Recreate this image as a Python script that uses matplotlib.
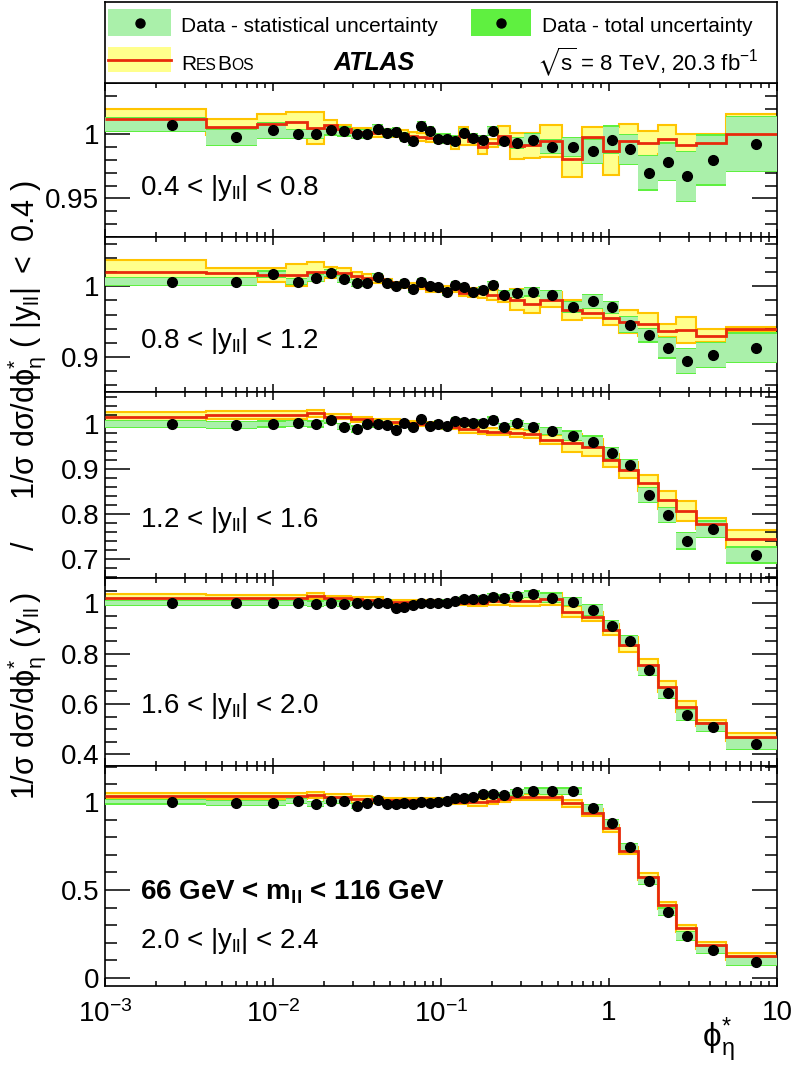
import numpy as np
import matplotlib
matplotlib.use("Agg")
import matplotlib.pyplot as plt
from matplotlib.ticker import MultipleLocator, FuncFormatter, LogLocator, NullFormatter

plt.rcParams['font.family'] = ['Liberation Sans', 'DejaVu Sans']
plt.rcParams['mathtext.fontset'] = 'custom'
plt.rcParams['mathtext.rm'] = 'Liberation Sans'
plt.rcParams['mathtext.it'] = 'Liberation Sans:italic'
plt.rcParams['mathtext.bf'] = 'Liberation Sans:bold'
plt.rcParams['mathtext.fallback'] = 'stixsans'

# phi*_eta binning and position of the first data point
phi_edges = [0.0, 0.004, 0.008, 0.012, 0.016, 0.020, 0.024, 0.029, 0.034, 0.039,
             0.045, 0.051, 0.057, 0.064, 0.072, 0.081, 0.091, 0.102, 0.114, 0.128,
             0.145, 0.165, 0.189, 0.219, 0.258, 0.312, 0.391, 0.524, 0.695, 0.918,
             1.153, 1.496, 1.947, 2.522, 3.277, 5.0, 10.0]
phi_first = 0.0025

# 0.4 < |y| < 0.8
data_y1 = [1.0075, 0.9977, 1.0030, 1.0000, 1.0005, 1.0030, 1.0023, 1.0000, 1.0005, 1.0040,
           1.0010, 1.0018, 0.9977, 0.9946, 1.0067, 1.0028, 0.9967, 0.9967, 0.9951, 1.0010,
           0.9972, 0.9956, 1.0028, 0.9946, 0.9933, 0.9959, 0.9903, 0.9903, 0.9869, 0.9959,
           0.9882, 0.9702, 0.9787, 0.9672, 0.9800, 0.9926]
stat_y1 = [0.005, 0.006, 0.006] + [0.003] * 21 + [0.004, 0.004, 0.005, 0.007, 0.009, 0.010,
                                                  0.011, 0.013, 0.014, 0.019, 0.019, 0.021]
tot_y1 = [0.006, 0.007, 0.007] + [0.004] * 21 + [0.005, 0.005, 0.006, 0.008, 0.010, 0.011,
                                                 0.012, 0.014, 0.015, 0.020, 0.020, 0.022]
rb_y1 = [1.012, 1.0058, 1.008, 1.010, 1.005, 1.0075, 1.004, 1.002, 1.002, 1.001,
         1.001, 1.001, 1.000, 0.999, 0.998, 0.997, 0.997, 0.996, 0.993, 0.999,
         0.995, 0.990, 0.993, 0.999, 0.991, 0.9915, 0.995, 0.981, 0.998, 0.987,
         0.995, 0.993, 0.996, 0.992, 0.993, 1.000]
rbe_y1 = [0.0075, 0.006, 0.0075, 0.0075, 0.0125, 0.004] + [0.003] * 12 + \
         [0.0045, 0.007, 0.003, 0.005, 0.003, 0.0077, 0.0099, 0.0099, 0.0125, 0.014,
          0.008, 0.019, 0.013, 0.0095, 0.011, 0.008, 0.0075, 0.0155]

# 0.8 < |y| < 1.2
data_y2 = [1.0068, 1.0068, 1.017, 1.0068, 1.0115, 1.019, 1.010, 1.0045, 1.0045, 1.013,
           1.0054, 1.0007, 1.0045, 0.9965, 1.0068, 1.000, 0.999, 0.992, 1.002, 0.999,
           0.992, 0.995, 1.002, 0.988, 0.9904, 0.992, 0.987, 0.9707, 0.9786, 0.970,
           0.9458, 0.9307, 0.913, 0.894, 0.9025, 0.913]
stat_y2 = [0.005, 0.005] + [0.004] * 21 + [0.005, 0.005, 0.005, 0.006, 0.007, 0.009, 0.008,
                                           0.011, 0.009, 0.014, 0.017, 0.017, 0.020]
tot_y2 = [0.0065, 0.0065] + [0.0055] * 21 + [0.0065, 0.0065, 0.0065, 0.0075, 0.0085, 0.0105,
                                             0.0095, 0.0125, 0.0105, 0.0155, 0.0185, 0.0185,
                                             0.0215]
rb_y2 = [1.020, 1.0186, 1.016, 1.016, 1.021, 1.020, 1.019, 1.014, 1.012, 1.010,
         1.0068, 1.002, 1.002, 1.001, 1.000, 0.9965, 0.9965, 0.9965, 0.9965, 0.991,
         0.991, 0.990, 0.988, 0.9835, 0.981, 0.9755,
         0.981, 0.966, 0.962, 0.955, 0.950, 0.946, 0.937, 0.938, 0.930, 0.939]
rbe_y2 = [0.017, 0.008, 0.010, 0.015, 0.014, 0.008, 0.007, 0.006, 0.005, 0.005] + \
         [0.004] * 9 + [0.005] + [0.006, 0.007, 0.007, 0.006, 0.0145, 0.013] + \
         [0.011, 0.014, 0.0068, 0.010, 0.016, 0.016, 0.009, 0.018, 0.009, 0.003]

# 1.2 < |y| < 1.6
data_y3 = [1.000, 0.998, 1.000, 1.0015, 1.000, 1.009, 0.994, 0.989, 1.000, 1.000,
           0.998, 0.987, 1.0015, 0.994, 1.010, 0.996, 1.000, 0.995, 1.0067, 1.005,
           1.003, 1.003, 1.009, 0.994, 1.0015, 0.994, 0.984, 0.974, 0.961, 0.935,
           0.909, 0.842, 0.798, 0.741, 0.766, 0.709]
stat_y3 = [0.006, 0.006] + [0.005] * 24 + [0.006, 0.009, 0.011, 0.011, 0.011, 0.015,
                                           0.015, 0.017, 0.017, 0.016]
tot_y3 = [0.009, 0.009] + [0.008] * 24 + [0.009, 0.012, 0.014, 0.014, 0.014, 0.018,
                                          0.018, 0.020, 0.020, 0.019]
rb_y3 = [1.016, 1.020, 1.020, 1.020, 1.024, 1.016, 1.016, 1.010, 1.010, 1.005, 1.005, 1.005,
         1.0015, 1.0015, 1.000, 1.000, 1.000, 0.994, 0.994, 0.988, 0.988, 0.985, 0.983,
         0.983, 0.979, 0.978,
         0.965, 0.957, 0.948, 0.919, 0.898, 0.869, 0.832, 0.807, 0.779, 0.744]
rbe_y3 = [0.010, 0.008, 0.008, 0.008, 0.008, 0.006, 0.006, 0.005, 0.005, 0.005, 0.005, 0.005,
          0.005, 0.005, 0.005, 0.005, 0.005, 0.006, 0.006, 0.007, 0.007, 0.008, 0.008,
          0.008, 0.009, 0.009,
          0.010, 0.020, 0.0185, 0.015, 0.018, 0.018, 0.020, 0.022, 0.013, 0.020]

# 1.6 < |y| < 2.0
data_y4 = [1.000, 1.000, 1.000, 1.000, 0.998, 1.000, 0.998, 1.000, 0.996, 1.000,
           1.002, 0.980, 0.984, 0.993, 1.000, 0.999, 0.999, 1.002, 1.009, 1.016,
           1.017, 1.018, 1.026, 1.021, 1.030, 1.036, 1.021, 1.006, 0.973, 0.910,
           0.850, 0.733, 0.643, 0.557, 0.508, 0.442]
stat_y4 = [0.008] * 22 + [0.009, 0.009, 0.010, 0.010, 0.017, 0.013, 0.018, 0.020,
                          0.020, 0.018, 0.018, 0.020, 0.016, 0.020]
tot_y4 = [0.013] * 22 + [0.014, 0.014, 0.015, 0.015, 0.022, 0.018, 0.023, 0.025,
                         0.025, 0.023, 0.023, 0.025, 0.021, 0.025]
rb_y4 = [1.020, 1.020, 1.020, 1.020, 1.029, 1.020, 1.020, 1.015, 1.013, 1.013,
         1.004, 1.004, 1.004, 1.004, 1.004, 1.004, 1.004, 1.000, 1.000, 1.000,
         1.000, 1.000, 1.007, 1.007, 1.007, 1.007, 1.016, 0.967, 0.947, 0.894,
         0.835, 0.755, 0.669, 0.590, 0.524, 0.468]
rbe_y4 = [0.015, 0.012, 0.012, 0.012, 0.012, 0.010, 0.010, 0.010, 0.010, 0.010] + \
         [0.008] * 10 + [0.012, 0.012, 0.015, 0.015, 0.020, 0.020, 0.024, 0.023, 0.017,
                         0.022, 0.030, 0.022, 0.022, 0.023, 0.013, 0.016]

# 2.0 < |y| < 2.4
data_y5 = [1.002, 0.996, 0.996, 1.007, 0.989, 1.005, 1.005, 0.979, 0.992, 1.011,
           0.989, 0.987, 0.993, 0.987, 0.998, 0.996, 0.998, 1.007, 1.021, 1.021,
           1.027, 1.045, 1.045, 1.040, 1.055, 1.064, 1.062, 1.062, 0.964, 0.879,
           0.743, 0.553, 0.377, 0.239, 0.159, 0.093]
stat_y5 = [0.010] * 20 + [0.012] * 6 + [0.015, 0.015, 0.018, 0.018, 0.020, 0.018,
                                        0.018, 0.020, 0.016, 0.020]
tot_y5 = [0.017] * 20 + [0.019] * 6 + [0.022, 0.022, 0.025, 0.025, 0.027, 0.025,
                                       0.025, 0.027, 0.023, 0.027]
rb_y5 = [1.034, 1.034, 1.034, 1.034, 1.040, 1.030, 1.030, 1.015, 1.015, 1.011] + \
        [1.011] * 8 + [1.002, 1.002, 0.998, 0.998, 1.007, 1.020, 1.030, 1.030, 1.030,
                       0.992, 0.939, 0.850, 0.723, 0.576, 0.415, 0.282, 0.1875, 0.125]
rbe_y5 = [0.018] * 10 + [0.015] * 10 + [0.018] * 6 + [0.020] * 10

panel_labels = [r'0.4 < |y$_{\mathrm{ll}}$| < 0.8',
                r'0.8 < |y$_{\mathrm{ll}}$| < 1.2',
                r'1.2 < |y$_{\mathrm{ll}}$| < 1.6',
                r'1.6 < |y$_{\mathrm{ll}}$| < 2.0',
                r'2.0 < |y$_{\mathrm{ll}}$| < 2.4']

panels = [
    (data_y1, stat_y1, tot_y1, rb_y1, rbe_y1),
    (data_y2, stat_y2, tot_y2, rb_y2, rbe_y2),
    (data_y3, stat_y3, tot_y3, rb_y3, rbe_y3),
    (data_y4, stat_y4, tot_y4, rb_y4, rbe_y4),
    (data_y5, stat_y5, tot_y5, rb_y5, rbe_y5),
]

# layout
W, H = 796, 1072
X0, X1 = 105, 777
tops = [83, 237, 392, 578, 766]
bots = [237, 392, 578, 766, 986]
ylims = [(0.92, 1.04), (0.85, 1.07), (0.658, 1.071), (0.354, 1.10), (-0.045, 1.205)]
ymajor = [0.05, 0.1, 0.1, 0.2, 0.5]
yminor = [0.01, 0.02, 0.02, 0.05, 0.1]
label_y = [0.273, 0.282, 0.276, 0.280, 0.174]
XMIN, XMAX = 1e-3, 10

GREEN_STAT = '#aaf0aa'
GREEN_TOT = '#5ff040'
YELLOW = '#ffff8c'
ORANGE = '#ffc400'
RED = '#e82a0c'

FS = 20


def fig_box(x0, y0, x1, y1):
    return [x0 / W, 1 - y1 / H, (x1 - x0) / W, (y1 - y0) / H]


fig = plt.figure(figsize=(W / 100, H / 100), dpi=100)
fig.patch.set_facecolor('white')

edges = np.clip(np.array(phi_edges), XMIN, None)
x_pts = 0.5 * (np.array(phi_edges[:-1]) + np.array(phi_edges[1:]))
x_pts[0] = phi_first

axes = []
for i, (d, st, tt, rb, rbe) in enumerate(panels):
    ax = fig.add_axes(fig_box(X0, tops[i], X1, bots[i]))
    axes.append(ax)
    d, st, tt, rb, rbe = map(np.array, (d, st, tt, rb, rbe))

    ax.stairs(rb + rbe, edges, baseline=rb - rbe, fill=True, color=YELLOW, lw=0, zorder=1)
    ax.stairs(rb + rbe, edges, baseline=None, color=ORANGE, lw=1.5, zorder=2)
    ax.stairs(rb - rbe, edges, baseline=None, color=ORANGE, lw=1.5, zorder=2)
    ax.stairs(d + tt, edges, baseline=d - tt, fill=True, color=GREEN_TOT, lw=0, zorder=3)
    ax.stairs(d + st, edges, baseline=d - st, fill=True, color=GREEN_STAT, lw=0, zorder=4)
    ax.stairs(rb, edges, baseline=None, color=RED, lw=2.0, zorder=5)
    ax.plot(x_pts, d, 'o', color='black', ms=7, zorder=6)

    ax.set_xscale('log')
    ax.set_xlim(XMIN, XMAX)
    ax.set_ylim(*ylims[i])
    ax.yaxis.set_major_locator(MultipleLocator(ymajor[i]))
    ax.yaxis.set_minor_locator(MultipleLocator(yminor[i]))
    ax.yaxis.set_major_formatter(FuncFormatter(lambda v, p: f'{v:g}'))
    ax.xaxis.set_major_locator(LogLocator(base=10, numticks=10))
    ax.xaxis.set_minor_locator(LogLocator(base=10, subs=np.arange(2, 10), numticks=20))
    ax.tick_params(axis='both', which='both', direction='in', top=True, right=True)
    ax.tick_params(axis='y', which='major', length=18, width=1.1, labelsize=FS, pad=4)
    ax.tick_params(axis='y', which='minor', length=8.5, width=1.1)
    ax.tick_params(axis='x', which='major', length=6, width=1.1, labelsize=FS, pad=10)
    ax.tick_params(axis='x', which='minor', length=3.3, width=1.1)
    for sp in ax.spines.values():
        sp.set_linewidth(1.2)

    if i < 4:
        ax.xaxis.set_major_formatter(NullFormatter())
    else:
        ax.set_xticks([1e-3, 1e-2, 1e-1, 1, 10])
        ax.set_xticklabels([r'$\mathrm{10^{-3}}$', r'$\mathrm{10^{-2}}$',
                            r'$\mathrm{10^{-1}}$', '1', '10'])
    ax.xaxis.set_minor_formatter(NullFormatter())

    ax.text(0.052, label_y[i], panel_labels[i], transform=ax.transAxes,
            fontsize=FS, va='baseline', ha='left', zorder=10)

axes[4].text(0.052, 0.394, r'66 GeV < m$_{\mathbf{ll}}$ < 116 GeV', fontweight='bold',
             transform=axes[4].transAxes, fontsize=FS, va='baseline', ha='left')

# axis titles
fig.text(27 / W, 1 - 490 / H,
         r'$\mathrm{1/σ\ dσ/dϕ^{*}_{η}\ (\,y_{ll}\,)\ \ \ \ \ /\ \ \ \ \ 1/σ\ dσ/dϕ^{*}_{η}\ (\ |y_{ll}|\ <\ 0.4\ )}$',
         rotation=90, fontsize=22, ha='center', va='center')
fig.text(735 / W, 1 - 1040 / H, r'$\mathrm{ϕ^{*}_{η}}$', fontsize=24,
         ha='right', va='center')

# legend box
lg = fig.add_axes(fig_box(X0, 2, X1, 83))
lg.set_xlim(X0, X1)
lg.set_ylim(83, 2)
lg.set_xticks([])
lg.set_yticks([])
for sp in lg.spines.values():
    sp.set_linewidth(1.2)

LFS = 15
lg.add_patch(plt.Rectangle((108, 9), 63, 27, color=GREEN_STAT, lw=0))
lg.plot([139.5], [22.5], 'o', color='black', ms=6.5)
lg.text(181, 31.5, 'Data - statistical uncertainty', fontsize=LFS, va='baseline')
lg.add_patch(plt.Rectangle((471, 9), 60, 27, color=GREEN_TOT, lw=0))
lg.plot([501], [22.5], 'o', color='black', ms=6.5)
lg.text(542, 31.5, 'Data - total uncertainty', fontsize=LFS, va='baseline')
lg.add_patch(plt.Rectangle((108, 47), 63, 25, color=YELLOW, lw=0))
lg.plot([108, 171], [59.5, 59.5], color=RED, lw=2.0)

# ResBos in small caps
renderer = fig.canvas.get_renderer()
xpos = 181
for txt, size in [('R', LFS), ('ES', LFS * 0.75), ('B', LFS), ('OS', LFS * 0.75)]:
    t = lg.text(xpos, 70, txt, fontsize=size, va='baseline', ha='left')
    bb = t.get_window_extent(renderer=renderer)
    xpos = lg.transData.inverted().transform((bb.x1, bb.y0))[0]

lg.text(374, 70, 'ATLAS', fontsize=18, fontweight='bold', style='italic',
        va='baseline', ha='center')
lg.text(759, 70, r'$\sqrt{\mathrm{s}}$ = 8 TeV, 20.3 fb$^{\mathrm{-1}}$', fontsize=LFS + 1,
        va='baseline', ha='right')

fig.savefig('out.png', dpi=100)
